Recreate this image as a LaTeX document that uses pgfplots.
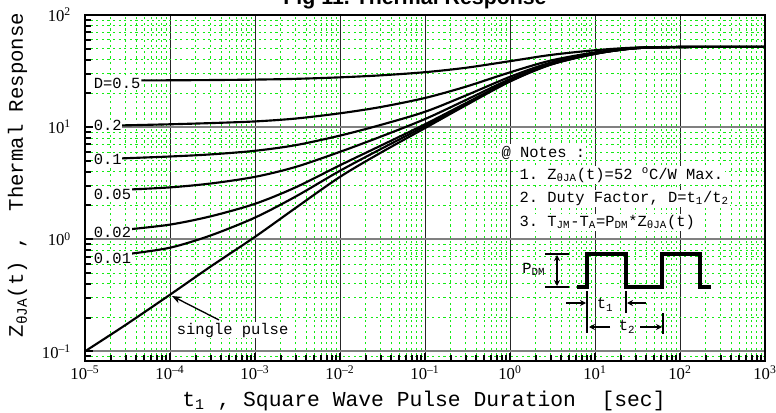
\documentclass[border=0pt]{standalone}
\usepackage{pgfplots}
\pgfplotsset{compat=1.18}
\usepackage{fontspec}
\setmainfont{Liberation Serif}
\setmonofont{Liberation Mono}
\setsansfont{Liberation Sans}
\usetikzlibrary{arrows.meta}
\definecolor{gridgreen}{RGB}{20,235,20}
\newcommand{\ttn}{\ttfamily\fontsize{11.6}{12}\selectfont}
\pgfplotsset{curve/.style={black, solid, line width=1.6pt, mark=none, smooth, tension=0.5}}
\begin{document}
\begin{tikzpicture}[x=0.75pt,y=0.75pt]
\path[use as bounding box] (-85,-51) rectangle (691,361);
\begin{axis}[
  at={(0,0)}, anchor=south west,
  scale only axis, width=510pt, height=259.5pt,
  xmode=log, ymode=log,
  xmin=1e-5, xmax=1e3, ymin=0.082, ymax=100,
  xtick={1e-5,1e-4,1e-3,1e-2,1e-1,1,10,100,1000},
  xticklabels={10\textsuperscript{–5},10\textsuperscript{–4},10\textsuperscript{–3},10\textsuperscript{–2},10\textsuperscript{–1},10\textsuperscript{0},10\textsuperscript{1},10\textsuperscript{2},10\textsuperscript{3}},
  minor xtick={2e-5,3e-5,4e-5,5e-5,6e-5,7e-5,8e-5,9e-5,
    2e-4,3e-4,4e-4,5e-4,6e-4,7e-4,8e-4,9e-4,
    2e-3,3e-3,4e-3,5e-3,6e-3,7e-3,8e-3,9e-3,
    2e-2,3e-2,4e-2,5e-2,6e-2,7e-2,8e-2,9e-2,
    0.2,0.3,0.4,0.5,0.6,0.7,0.8,0.9,
    2,3,4,5,6,7,8,9,20,30,40,50,60,70,80,90,
    200,300,400,500,600,700,800,900},
  ytick={0.1,1,10,100},
  yticklabels={10\textsuperscript{–1},10\textsuperscript{0},10\textsuperscript{1},10\textsuperscript{2}},
  minor ytick={0.09,0.2,0.3,0.4,0.5,0.6,0.7,0.8,0.9,2,3,4,5,6,7,8,9,20,30,40,50,60,70,80,90},
  tick label style={font=\fontsize{12.5}{12.5}\selectfont},
  yticklabel style={xshift=-7pt},
  grid=both,
  major x grid style={black!85, line width=0.6pt},
  major y grid style={black!50, line width=1.5pt},
  minor grid style={gridgreen, line width=0.65pt, dash pattern=on 1.6pt off 2.6pt},
  axis line style={line width=1.5pt},
  tick style={black, line width=1.5pt},
  tick align=inside, xtick pos=left, ytick pos=left,
  major tick length=6pt, minor tick length=4.5pt,
]
% single pulse
\addplot[curve] coordinates {(1e-5,0.1)(3e-5,0.172)(1e-4,0.32)(3e-4,0.57)(1e-3,1.05)(3e-3,1.9)(1e-2,3.6)(3e-2,5.9)(1e-1,9.8)(3e-1,15.6)(1,25.5)(3,36)(10,45)(30,50.5)(100,51.8)(300,52)(1000,52)};
% D=0.01
\addplot[curve] coordinates {(3.3e-5,0.74)(1e-4,0.84)(3e-4,1.08)(1e-3,1.56)(3e-3,2.4)(1e-2,4.08)(3e-2,6.36)(1e-1,10.2)(3e-1,15.96)(1,25.8)(3,36.2)(10,45.1)(30,50.5)(100,51.8)(300,52)(1000,52)};
% D=0.02
\addplot[curve] coordinates {(3.1e-5,1.22)(1e-4,1.35)(3e-4,1.6)(1e-3,2.07)(3e-3,2.9)(1e-2,4.57)(3e-2,6.82)(1e-1,10.6)(3e-1,16.3)(1,26.0)(3,36.3)(10,45.1)(30,50.5)(100,51.8)(300,52)(1000,52)};
% D=0.05
\addplot[curve] coordinates {(3.1e-5,2.77)(1e-4,2.9)(3e-4,3.14)(1e-3,3.6)(3e-3,4.41)(1e-2,6.02)(3e-2,8.21)(1e-1,11.8)(3e-1,17.4)(1,26.8)(3,36.8)(10,45.35)(30,50.6)(100,51.8)(300,52)(1000,52)};
% D=0.1
\addplot[curve] coordinates {(2.5e-5,5.25)(1e-4,5.47)(3e-4,5.71)(1e-3,6.15)(3e-3,6.9)(1e-2,8.4)(3e-2,10.45)(1e-1,13.7)(3e-1,19.1)(1,28.1)(3,37.6)(10,45.7)(30,50.65)(100,51.8)(300,52)(1000,52)};
% D=0.2
\addplot[curve] coordinates {(2.6e-5,10.35)(1e-4,10.6)(3e-4,10.86)(1e-3,11.24)(3e-3,11.92)(1e-2,13.28)(3e-2,15.1)(1e-1,18.2)(3e-1,22.9)(1,30.8)(3,39.2)(10,46.4)(30,50.8)(100,51.8)(300,52)(1000,52)};
% D=0.5
\addplot[curve] coordinates {(4.6e-5,26.1)(1e-4,26.16)(3e-4,26.29)(1e-3,26.53)(3e-3,26.95)(1e-2,27.8)(3e-2,28.95)(1e-1,30.9)(3e-1,33.8)(1,38.75)(3,44)(10,48.5)(30,51.25)(100,51.9)(300,52)(1000,52)};
\end{axis}
\begin{scope}[shift={(-85,361)}, yscale=-1]
  % title (cut at top, as in the reference)
  \node[anchor=base, font=\sffamily\bfseries\fontsize{16}{16}\selectfont] at (415,4.5) {Fig 11.\ Thermal Response};
  % axis labels
  \node[anchor=base, font=\ttfamily\fontsize{16}{16}\selectfont] at (424,406) {t\textsubscript{1} , Square Wave Pulse Duration\ \ [sec]};
  \node[rotate=90, anchor=base, font=\ttfamily\fontsize{15.5}{16}\selectfont] at (23,175) {Z\textsubscript{θJA}(t) ,\ \ Thermal Response};
  % D labels
  \tikzset{dl/.style={anchor=west, fill=white, inner sep=0.5pt, font=\ttn}}
  \node[dl] at (93,83) {D=0.5};
  \node[dl] at (93,125.5) {0.2};
  \node[dl] at (93,159) {0.1};
  \node[dl] at (93,194) {0.05};
  \node[dl] at (93,232) {0.02};
  \node[dl] at (93,258) {0.01};
  % single pulse
  \node[anchor=base west, font=\ttn, fill=white, inner sep=0.5pt] at (176,334) {single pulse};
  \draw[line width=1pt, -{Stealth[length=6.75pt,width=5.25pt]}] (219,320) -- (172,296);
  % notes
  \tikzset{nl/.style={anchor=base west, fill=white, inner sep=1pt, font=\ttn}}
  \node[nl] at (500,157) {@ Notes :};
  \node[nl] at (518,179) {1. Z\textsubscript{θJA}(t)=52 \textsuperscript{o}C/W Max.};
  \node[nl] at (518,202.5) {2. Duty Factor, D=t\textsubscript{1}/t\textsubscript{2}};
  \node[nl] at (518,226.5) {3. T\textsubscript{JM}-T\textsubscript{A}=P\textsubscript{DM}*Z\textsubscript{θJA}(t)};
  % pulse waveform
  \draw[line width=2.8pt, line join=miter] (577,287) -- (587,287) -- (587,254) -- (626,254) -- (626,287) -- (662,287) -- (662,254) -- (700,254) -- (700,287) -- (711,287);
  % P_DM
  \node[anchor=base west, font=\ttn, inner sep=0pt] at (522,273) {P\textsubscript{DM}};
  \draw[line width=1.2pt] (545,254) -- (569,254) (545,287) -- (569,287);
  \draw[line width=1.2pt, {Stealth[length=4.5pt,width=4.5pt]}-{Stealth[length=4.5pt,width=4.5pt]}] (557,255) -- (557,286);
  % t1, t2
  \draw[line width=1.6pt] (587,291) -- (587,333) (626,291) -- (626,313) (663,313) -- (663,334);
  \draw[line width=1.2pt, -{Stealth[length=4.5pt,width=4.5pt]}] (566,303) -- (586,303);
  \draw[line width=1.2pt, -{Stealth[length=4.5pt,width=4.5pt]}] (646,303) -- (627,303);
  \draw[line width=1.2pt, -{Stealth[length=4.5pt,width=4.5pt]}] (610,327) -- (589,327);
  \draw[line width=1.2pt, -{Stealth[length=4.5pt,width=4.5pt]}] (640,327) -- (662,327);
  \node[font=\ttn, inner sep=0pt] at (605,305) {t\textsubscript{1}};
  \node[font=\ttn, inner sep=0pt] at (627,327) {t\textsubscript{2}};
\end{scope}
\end{tikzpicture}
\end{document}
